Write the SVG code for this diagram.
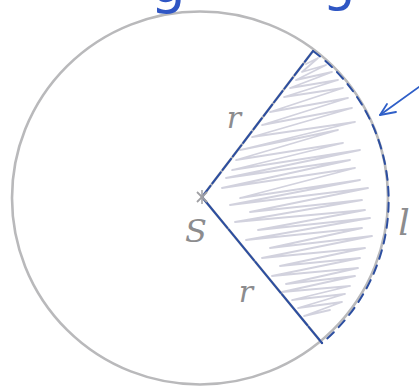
<svg xmlns="http://www.w3.org/2000/svg" width="419" height="389" viewBox="0 0 419 389">
<style>
.pencil{fill:none;stroke:#b9b9bb;stroke-width:2.6;stroke-linecap:round;stroke-linejoin:round}
.ink{fill:none;stroke:#2c4ea0;stroke-width:2;stroke-linecap:round}
.hatch{fill:none;stroke:#d2d2de;stroke-width:1.8;stroke-linejoin:round;stroke-linecap:round}
.lbl{font-family:"DejaVu Serif","Liberation Serif",serif;font-style:italic;fill:#8c8c8e}
.blue{font-family:"DejaVu Sans","Liberation Sans",sans-serif;fill:#2f56c4}
</style>
<rect width="419" height="389" fill="#ffffff"/>
<g id="circle">
<ellipse cx="200" cy="198" rx="188" ry="186.5" class="pencil"/>
</g>
<g id="sector">
<polyline class="hatch" points="306,64 318,58 302,72 326,65 296,80 332,72 290,88 338,80 284,97 343,88 270,112 348,98 262,125 352,108 252,137 355,122 240,150 338,130 236,160 343,143 232,170 360,150 226,178 350,160 222,188 355,168 240,198 360,180 230,205 368,188 250,212 362,200 235,222 365,210 258,230 370,218 246,240 362,228 270,248 372,236 262,258 365,248 280,266 360,258 272,276 358,268 286,284 355,276 282,292 350,286 292,300 345,294 298,308 342,302 304,316 330,310"/>
</g>
<g id="connectors">
<line class="pencil" x1="202" y1="197" x2="313" y2="51"/>
<line class="pencil" x1="202" y1="197" x2="322" y2="343"/>
<line class="ink" x1="202" y1="197" x2="313" y2="51" stroke-dasharray="14 3"/>
<line class="ink" x1="202" y1="197" x2="322" y2="343" stroke-dasharray="40 2"/>
<path class="ink" d="M313,51 A188,186.5 0 0 1 322,343" stroke-dasharray="9 7" stroke-width="2.4"/>
<line x1="419" y1="87" x2="380" y2="115" stroke="#2f5fc8" stroke-width="1.8" stroke-linecap="round"/>
<polyline points="387,104 380,115 396,112" fill="none" stroke="#2f5fc8" stroke-width="1.8" stroke-linecap="round" stroke-linejoin="round"/>
</g>
<g id="centre">
<line x1="197" y1="192" x2="207" y2="202" stroke="#a0a0a4" stroke-width="1.8"/>
<line x1="207" y1="192" x2="197" y2="202" stroke="#a0a0a4" stroke-width="1.8"/>
<line x1="202" y1="190" x2="202" y2="204" stroke="#a0a0a4" stroke-width="1.5"/>
</g>
<g id="labels">
<text class="lbl" x="234" y="128" font-size="30" text-anchor="middle">r</text>
<text class="lbl" x="246" y="302" font-size="30" text-anchor="middle">r</text>
<text class="lbl" x="196" y="242" font-size="32" text-anchor="middle" font-style="normal">S</text>
<text class="lbl" x="404" y="235" font-size="36" text-anchor="middle">l</text>
<text class="blue" x="168" y="2" font-size="56" text-anchor="middle">g</text>
<text class="blue" x="339" y="0" font-size="52" text-anchor="middle">g</text>
</g>
</svg>
